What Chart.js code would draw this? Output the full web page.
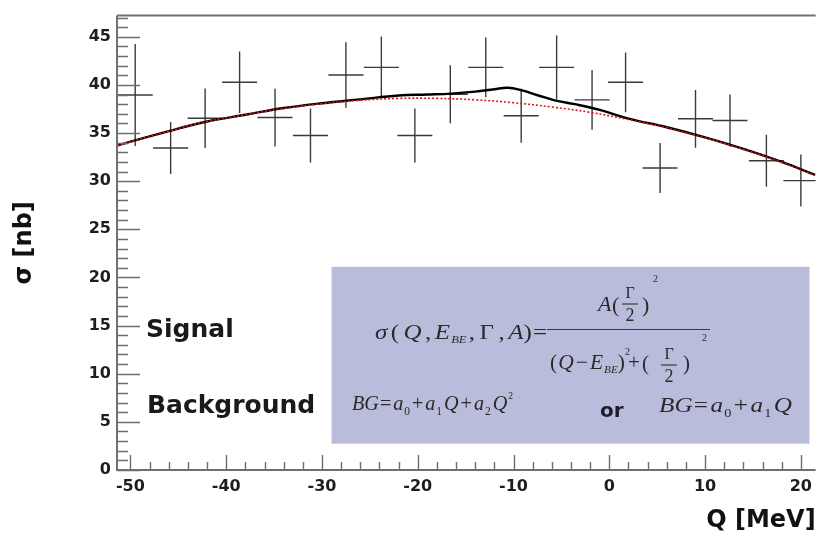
<!DOCTYPE html>
<html>
<head>
<meta charset="utf-8">
<script src="https://cdn.jsdelivr.net/npm/chart.js@4.4.1/dist/chart.umd.min.js"></script>
<style>
  html, body { margin: 0; padding: 0; background: #fff; overflow: hidden; }
  #wrap { width: 819px; height: 539px; }
</style>
</head>
<body>
<div id="wrap"><canvas id="c" width="819" height="539"></canvas></div>
<script>
// Measured cross section per Q bin (nb)
const binCenters   = [-49.5, -45.8, -42.2, -38.6, -34.9, -31.2, -27.5, -23.8, -20.3, -16.6,
                      -12.9, -9.2, -5.5, -1.8, 1.7, 5.3, 9.0, 12.6, 16.4, 20.0];
const binHalfWidth = [1.83, 1.83, 1.83, 1.83, 1.83, 1.83, 1.83, 1.83, 1.83, 1.83,
                      1.83, 1.83, 1.83, 1.83, 1.83, 1.83, 1.83, 1.83, 1.83, 1.83];
const sigma        = [38.96, 33.44, 36.54, 40.27, 36.61, 34.75, 41.03, 41.82, 34.75, 39.03,
                      41.82, 36.79, 41.82, 38.45, 40.27, 31.37, 36.48, 36.30, 32.13, 30.06];
const sigmaErr     = [5.3, 2.7, 3.1, 3.2, 3.0, 2.8, 3.4, 3.2, 2.8, 3.0,
                      3.1, 2.8, 3.3, 3.1, 3.1, 2.6, 3.0, 2.7, 2.7, 2.7];

// Fitted curves: signal + background, and background alone
const fitQ     = [-51.4, -46, -42, -38, -34, -30, -26, -22, -19, -16.5, -14, -12, -10.6, -9.2,
                  -7.4, -5.7, -3.6, -1, 2, 6, 10, 14, 18, 21.5];
const fitTotal = [33.7, 35.2, 36.2, 36.9, 37.6, 38.1, 38.5, 38.9, 39.0, 39.1, 39.3, 39.55, 39.7, 39.45,
                  38.9, 38.4, 38.0, 37.4, 36.5, 35.6, 34.55, 33.35, 32.0, 30.65];
const bgQ      = [-51.4, -46, -42, -38, -34, -30, -26, -22, -18, -14, -10, -6, -2, 2, 6, 10, 14, 18, 21.5];
const bgValues = [33.7, 35.2, 36.2, 36.9, 37.55, 38.05, 38.4, 38.6, 38.6, 38.45, 38.15, 37.7, 37.15,
                  36.4, 35.55, 34.5, 33.3, 31.95, 30.6];

// Axis labels
const xTickValues = [-50, -40, -30, -20, -10, 0, 10, 20];
const yTickValues = [0, 5, 10, 15, 20, 25, 30, 35, 40, 45];

const SANS = '"DejaVu Sans", sans-serif';
const SERIF = '"Liberation Serif", "DejaVu Serif", serif';

// Vertical and horizontal error bars for the measured points
const errorBars = {
  id: 'errorBars',
  beforeDatasetsDraw(chart) {
    const { ctx, scales: { x, y } } = chart;
    const ds = chart.data.datasets[2];
    ctx.save();
    ctx.beginPath();
    ctx.rect(chart.chartArea.left, chart.chartArea.top, chart.chartArea.width, chart.chartArea.height);
    ctx.clip();
    ctx.strokeStyle = '#3a3a3a';
    ctx.lineWidth = 1.4;
    ds.data.forEach(p => {
      const px = x.getPixelForValue(p.x);
      const py = y.getPixelForValue(p.y);
      ctx.beginPath();
      ctx.moveTo(px, y.getPixelForValue(p.y - p.yErr));
      ctx.lineTo(px, y.getPixelForValue(p.y + p.yErr));
      ctx.moveTo(x.getPixelForValue(p.x - p.xErr), py);
      ctx.lineTo(x.getPixelForValue(p.x + p.xErr), py);
      ctx.stroke();
    });
    ctx.restore();
  }
};

// Formula panel and labels
function drawRun(ctx, parts, x0, baseline, width) {
  let total = 0;
  parts.forEach(p => { ctx.font = p[1]; total += (p[3] || 0) + ctx.measureText(p[0]).width; });
  ctx.save();
  ctx.translate(x0, baseline);
  ctx.scale(width / total, 1);
  let cx = 0;
  parts.forEach(p => {
    ctx.font = p[1];
    cx += p[3] || 0;
    ctx.fillText(p[0], cx, p[2] || 0);
    cx += ctx.measureText(p[0]).width;
  });
  ctx.restore();
}
function stackedHalf(ctx, cx, barY) {
  ctx.textAlign = 'center';
  ctx.font = '16px ' + SERIF;
  ctx.fillText('Γ', cx, barY - 6);
  ctx.font = '18px ' + SERIF;
  ctx.fillText('2', cx, barY + 17);
  ctx.textAlign = 'left';
  ctx.beginPath();
  ctx.moveTo(cx - 8, barY);
  ctx.lineTo(cx + 8, barY);
  ctx.stroke();
}

const panel = {
  id: 'panel',
  beforeDatasetsDraw(chart) {
    const { ctx, scales: { x, y } } = chart;
    ctx.save();
    // shaded box behind the formulas
    const bx0 = x.getPixelForValue(-29.0), bx1 = x.getPixelForValue(20.9);
    const by0 = y.getPixelForValue(21.1), by1 = y.getPixelForValue(2.73);
    ctx.fillStyle = '#b9bddb';
    ctx.fillRect(bx0, by0, bx1 - bx0, by1 - by0);

    ctx.fillStyle = '#1a1a1a';
    ctx.textBaseline = 'alphabetic';
    ctx.font = 'bold 25px ' + SANS;
    ctx.fillText('Signal', 146, 337);
    ctx.fillText('Background', 147, 413);

    const I22 = 'italic 22px ' + SERIF, R22 = '22px ' + SERIF;
    const I21 = 'italic 21px ' + SERIF, R21 = '21px ' + SERIF;
    const I11 = 'italic 11px ' + SERIF, R11 = '12px ' + SERIF, R10 = '10px ' + SERIF;
    ctx.fillStyle = '#2a2a2a';
    ctx.strokeStyle = '#3a3a3a';
    ctx.lineWidth = 1.2;

    // sigma(Q, E_BE, Gamma, A) =
    drawRun(ctx, [
      ['σ', I22], ['(', R22, 0, 3], ['Q', I22, 0, 4], [',', R22, 0, 3], ['E', I22, 0, 3],
      ['BE', I11, 4, 1], [',', R22, 0, 2], ['Γ', R22, 0, 4], [',', R22, 0, 4],
      ['A', I22, 0, 3], [')', R22], ['=', R22, 0, 1]
    ], 375, 339, 172);
    ctx.beginPath();
    ctx.moveTo(547, 329.5);
    ctx.lineTo(710, 329.5);
    ctx.stroke();

    // numerator A (Gamma/2)^2
    ctx.font = I22; ctx.fillText('A', 598, 311);
    ctx.font = R22; ctx.fillText('(', 612, 312);
    stackedHalf(ctx, 630, 304);
    ctx.font = R22; ctx.fillText(')', 642, 312);
    ctx.font = R10; ctx.fillText('2', 653, 282);

    // denominator (Q - E_BE)^2 + (Gamma/2)^2
    drawRun(ctx, [
      ['(', R21], ['Q', I21, 0, 1], ['−', R21, 0, 2], ['E', I21, 0, 2], ['BE', I11, 4, 1], [')', R21]
    ], 550, 369, 75);
    ctx.font = R10; ctx.fillText('2', 625, 355);
    ctx.font = R21; ctx.fillText('+', 628, 369);
    ctx.fillText('(', 642, 370);
    stackedHalf(ctx, 669, 365);
    ctx.font = R21; ctx.fillText(')', 683, 370);
    ctx.font = R10; ctx.fillText('2', 702, 341);

    // background parametrisations
    drawRun(ctx, [
      ['BG', I21], ['=', R21, 0, 1], ['a', I21, 0, 2], ['0', R11, 5, 1], ['+', R21, 0, 2],
      ['a', I21, 0, 2], ['1', R11, 5, 1], ['Q', I21, 0, 2], ['+', R21, 0, 2],
      ['a', I21, 0, 2], ['2', R11, 5, 1], ['Q', I21, 0, 2], ['2', R10, -11, 1]
    ], 352, 410, 161);
    drawRun(ctx, [
      ['BG', I21], ['=', R21, 0, 1], ['a', I21, 0, 2], ['0', R11, 5, 1], ['+', R21, 0, 2],
      ['a', I21, 0, 2], ['1', R11, 5, 1], ['Q', I21, 0, 2]
    ], 659, 412, 133);

    ctx.fillStyle = '#1c1c2c';
    ctx.font = 'bold 20px ' + SANS;
    ctx.fillText('or', 600, 417);
    ctx.restore();
  }
};

// Frame and inward tick marks
const frame = {
  id: 'frame',
  afterDraw(chart) {
    const { ctx, chartArea: a, scales: { x, y } } = chart;
    ctx.save();
    ctx.strokeStyle = '#6e6e6e';
    ctx.lineWidth = 1.4;
    ctx.beginPath();
    for (let v = 0; v <= Math.floor(y.max); v++) {
      const py = Math.round(y.getPixelForValue(v)) + 0.5;
      const len = v % 5 === 0 ? 23 : 11;
      ctx.moveTo(a.left, py);
      ctx.lineTo(a.left + len, py);
    }
    for (let v = -50; v <= x.max; v += 2) {
      const px = Math.round(x.getPixelForValue(v)) + 0.5;
      const len = v % 10 === 0 ? 15 : 8;
      ctx.moveTo(px, a.bottom);
      ctx.lineTo(px, a.bottom - len);
    }
    ctx.stroke();
    ctx.lineWidth = 2;
    ctx.strokeStyle = '#707070';
    ctx.beginPath();
    ctx.moveTo(a.left, a.top);
    ctx.lineTo(a.right, a.top);
    ctx.moveTo(a.left, a.top);
    ctx.lineTo(a.left, a.bottom);
    ctx.lineTo(a.right, a.bottom);
    ctx.stroke();
    ctx.restore();
  }
};

new Chart(document.getElementById('c'), {
  type: 'scatter',
  data: {
    datasets: [
      {
        label: 'Background',
        data: bgQ.map((q, i) => ({ x: q, y: bgValues[i] })),
        showLine: true,
        borderColor: '#e3121c',
        borderWidth: 1.6,
        borderDash: [2, 2],
        pointRadius: 0,
        tension: 0.4
      },
      {
        label: 'Signal + background',
        data: fitQ.map((q, i) => ({ x: q, y: fitTotal[i] })),
        showLine: true,
        borderColor: '#000',
        borderWidth: 2.4,
        pointRadius: 0,
        tension: 0.4
      },
      {
        label: 'Data',
        data: binCenters.map((q, i) => ({ x: q, y: sigma[i], xErr: binHalfWidth[i], yErr: sigmaErr[i] })),
        showLine: false,
        pointRadius: 0
      }
    ]
  },
  options: {
    responsive: false,
    animation: false,
    devicePixelRatio: 1,
    layout: { padding: { top: 13, right: 0, left: 0, bottom: 0 } },
    plugins: { legend: { display: false }, tooltip: { enabled: false } },
    scales: {
      x: {
        type: 'linear',
        min: -51.4,
        max: 21.54,
        afterBuildTicks: s => { s.ticks = xTickValues.map(v => ({ value: v })); },
        afterFit: s => { s.height = 69; },
        grid: { display: false, drawTicks: false, tickLength: 0 },
        border: { display: false },
        ticks: {
          font: { family: SANS, weight: 'bold', size: 16 },
          color: '#1e1e1e',
          padding: 7,
          maxRotation: 0,
          autoSkip: false
        },
        title: {
          display: true,
          text: 'Q [MeV]',
          align: 'end',
          color: '#111',
          font: { family: SANS, weight: 'bold', size: 24 },
          padding: { top: 0, bottom: 4 }
        }
      },
      y: {
        type: 'linear',
        min: 0,
        max: 47.2,
        afterBuildTicks: s => { s.ticks = yTickValues.map(v => ({ value: v })); },
        afterFit: s => { s.width = 117; },
        grid: { display: false, drawTicks: false, tickLength: 0 },
        border: { display: false },
        ticks: {
          font: { family: SANS, weight: 'bold', size: 16 },
          color: '#1e1e1e',
          padding: 6,
          autoSkip: false
        },
        title: {
          display: true,
          text: 'σ [nb]',
          color: '#111',
          font: { family: SANS, weight: 'bold', size: 24 },
          padding: { top: 10, bottom: 0 }
        }
      }
    }
  },
  plugins: [panel, errorBars, frame]
});
</script>
</body>
</html>
